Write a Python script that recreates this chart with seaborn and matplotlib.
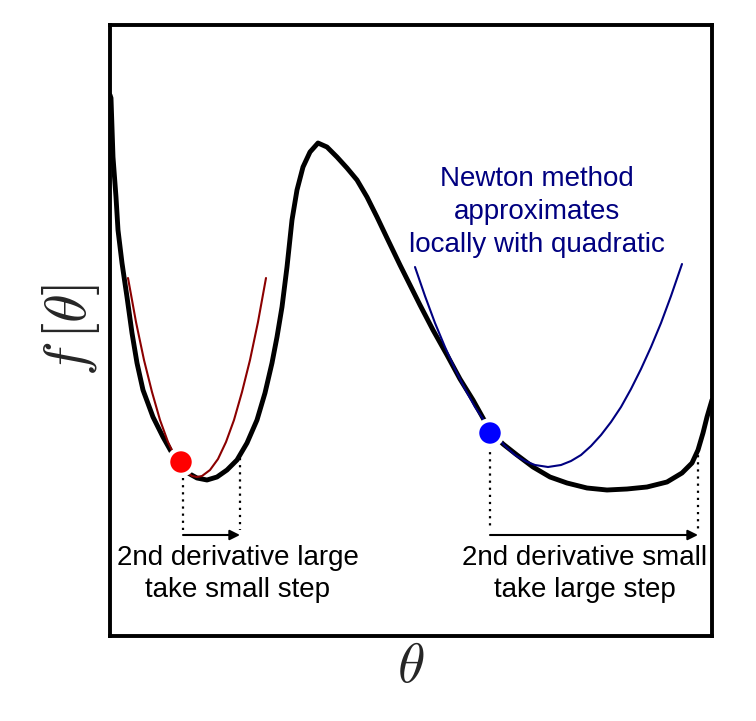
import matplotlib
matplotlib.use("Agg")
import matplotlib.pyplot as plt
import seaborn as sns

# loss curve (theta, f) in arbitrary units
theta = [0, 1, 3, 6, 8, 12, 17, 22, 27, 33, 43, 53, 62, 71, 78, 87, 97, 107, 117,
         127, 137, 147, 155, 162, 167, 172, 177, 182, 187, 193, 200, 208, 217, 227,
         237, 247, 257, 267, 277, 290, 300, 310, 323, 337, 350, 363, 373, 380, 387,
         393, 407, 423, 440, 457, 477, 497, 517, 537, 557, 572, 582, 588, 593, 597, 602]
f_theta = [541, 538, 479, 439, 406, 373, 339, 303, 273, 246, 219, 199, 183, 172, 163,
           158, 156, 159, 166, 176, 193, 216, 243, 273, 299, 329, 369, 416, 446, 469,
           484, 493, 489, 479, 468, 456, 439, 419, 398, 371, 351, 331, 306, 281, 257,
           236, 218, 206, 198, 192, 181, 169, 159, 153, 148, 146, 147, 149, 154, 163,
           173, 186, 203, 219, 236]

# local quadratic approximations
red_theta = [18, 26, 34, 42, 50, 58, 66, 74, 82, 87, 92, 100, 108, 116, 124, 132,
             140, 148, 156]
red_f = [358, 314, 276, 244, 216, 194, 177, 166, 160, 159, 160, 166, 177, 194, 216,
         244, 276, 314, 358]
blue_theta = [305, 315, 325, 335, 345, 355, 365, 375, 385, 395, 405, 415, 425, 438,
              451, 461, 471, 481, 491, 501, 511, 521, 531, 541, 551, 561, 572]
blue_f = [369, 340, 313, 289, 267, 247, 229, 214, 201, 190, 181, 175, 171, 169, 171,
          175, 181, 190, 201, 214, 229, 247, 267, 289, 313, 340, 372]

# current points and the steps taken
dot_theta = [71, 380]
dot_f = [174, 203]
dot_colors = ["#ff0000", "#0000ff"]
step_start = [73, 380]
step_end = [130, 588]
step_top_start = [158, 191]
step_top_end = [178, 188]
step_labels = ["2nd derivative large\ntake small step",
               "2nd derivative small\ntake large step"]
label_x = [128, 475]
newton_text = "Newton method\napproximates\nlocally with quadratic"

sns.set_theme(style="white")
plt.rcParams['font.family'] = ['Liberation Sans', 'DejaVu Sans']
plt.rcParams['mathtext.fontset'] = 'cm'

fig = plt.figure(figsize=(7.56, 7.21), dpi=100)
ax = fig.add_axes([0.1455, 0.1179, 0.7963, 0.8474])

sns.lineplot(x=theta, y=f_theta, ax=ax, color="black", lw=3.5, sort=False)
sns.lineplot(x=red_theta, y=red_f, ax=ax, color="#8b0000", lw=1.5, sort=False)
sns.lineplot(x=blue_theta, y=blue_f, ax=ax, color="#000080", lw=1.5, sort=False)
sns.scatterplot(x=dot_theta, y=dot_f, ax=ax, hue=dot_theta, palette=dot_colors,
                s=340, edgecolor="white", linewidth=3, legend=False, zorder=5)

base_y = 106
arrow_y = 101
for i in range(2):
    ax.plot([step_start[i]] * 2, [step_top_start[i], base_y], color="black", ls=(0, (1, 2.2)), lw=1.6)
    ax.plot([step_end[i]] * 2, [step_top_end[i], base_y], color="black", ls=(0, (1, 2.2)), lw=1.6)
    ax.annotate("", xy=(step_end[i], arrow_y), xytext=(step_start[i], arrow_y),
                arrowprops=dict(arrowstyle="-|>", color="black", lw=1.5, mutation_scale=15,
                                shrinkA=0, shrinkB=0))
    ax.text(label_x[i], 62, step_labels[i], ha="center", va="center", fontsize=20,
            color="black", linespacing=1.32)

ax.text(427, 424, newton_text, ha="center", va="center", fontsize=20,
        color="#000080", linespacing=1.35)

ax.set_xlim(0, 602)
ax.set_ylim(0, 611)
ax.set_xticks([])
ax.set_yticks([])
for sp in ax.spines.values():
    sp.set_linewidth(2.8)
    sp.set_color("black")
ax.set_xlabel(r"$\theta$", fontsize=40, labelpad=4)
ax.set_ylabel(r"$f\,[\theta]$", fontsize=42, labelpad=6)

fig.savefig("out.png", dpi=100)
